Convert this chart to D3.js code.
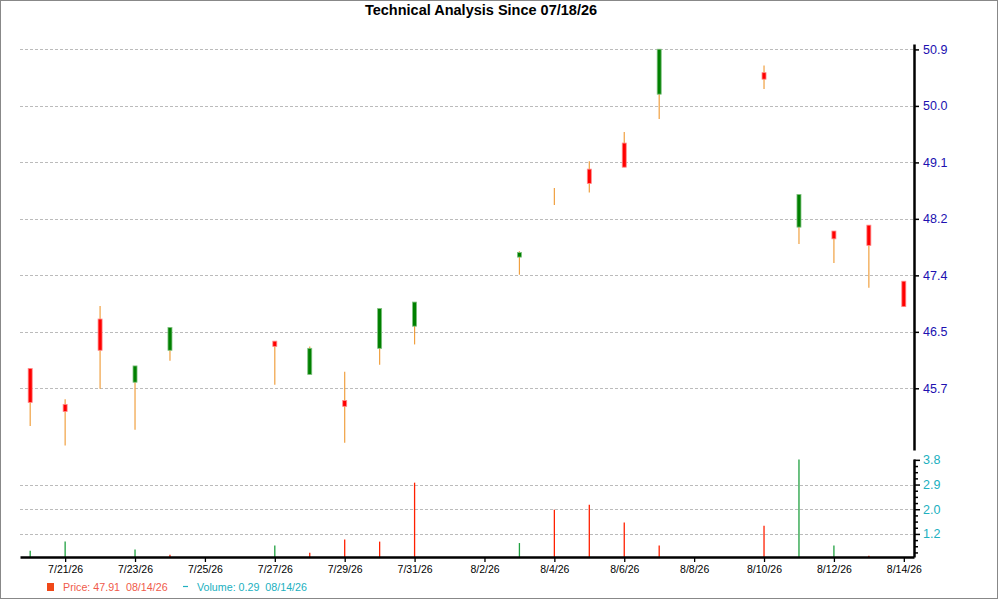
<!DOCTYPE html>
<html>
<head>
<meta charset="utf-8">
<script src="https://cdn.jsdelivr.net/npm/d3@7"></script>
<style>
    body { margin: 0; background: #fff; }
    text { font-family: "Liberation Sans", Arial, sans-serif; }
</style>
</head>
<body>
<div id="chart"></div>
<script>
// Daily candles
const dates = ["2026-07-20", "2026-07-21", "2026-07-22", "2026-07-23", "2026-07-24",
               "2026-07-27", "2026-07-28", "2026-07-29", "2026-07-30", "2026-07-31",
               "2026-08-03", "2026-08-04", "2026-08-05", "2026-08-06", "2026-08-07",
               "2026-08-10", "2026-08-11", "2026-08-12", "2026-08-13", "2026-08-14"];
const opens  = [45.97, 45.42, 46.73, 45.76, 46.25, 46.39, 45.88, 45.48, 46.28, 46.62,
                47.68, 48.62, 49.03, 49.43, 50.18, 50.51, 48.14, 48.08, 48.17, 47.31];
const highs  = [45.97, 45.50, 46.93, 46.01, 46.60, 46.39, 46.31, 45.92, 46.89, 46.99,
                47.77, 48.74, 49.15, 49.60, 50.87, 50.62, 48.64, 48.08, 48.17, 47.31];
const lows   = [45.09, 44.79, 45.66, 45.03, 46.09, 45.72, 45.88, 44.83, 46.03, 46.34,
                47.41, 48.48, 48.67, 49.06, 49.80, 50.26, 47.88, 47.59, 47.21, 46.92];
const closes = [45.45, 45.31, 46.25, 46.01, 46.60, 46.31, 46.28, 45.39, 46.89, 46.99,
                47.75, 48.62, 48.81, 49.06, 50.87, 50.41, 48.64, 47.96, 47.86, 46.92];

// Volume (millions) and whether the bar is drawn as "up"
const volumes = [0.58, 0.90, 0.36, 0.62, 0.44, 0.76, 0.51, 0.97, 0.90, 2.97,
                 0.85, 2.02, 2.19, 1.57, 0.76, 1.46, 3.78, 0.76, 0.40, 0.29];
const volumeUp = [1, 1, 0, 1, 0, 1, 0, 0, 0, 0, 1, 0, 0, 0, 0, 0, 1, 1, 0, 0];

// Axis ticks
const dateTicks = ["2026-07-21", "2026-07-23", "2026-07-25", "2026-07-27", "2026-07-29",
                   "2026-07-31", "2026-08-02", "2026-08-04", "2026-08-06", "2026-08-08",
                   "2026-08-10", "2026-08-12", "2026-08-14"];
const priceTickValues = [45.667, 46.533, 47.4, 48.267, 49.133, 50.0, 50.867];
const priceTickLabels = ["45.7", "46.5", "47.4", "48.2", "49.1", "50.0", "50.9"];
const volumeTickValues = [1.17, 2.037, 2.903, 3.77];
const volumeTickLabels = ["1.2", "2.0", "2.9", "3.8"];

const title = "Technical Analysis Since 07/18/26";
const legendPrice = "Price: 47.91  08/14/26";
const legendVolume = "Volume: 0.29  08/14/26";

const parseDate = d3.timeParse("%Y-%m-%d");
const data = dates.map((d, i) => ({
    date: parseDate(d),
    open: opens[i], high: highs[i], low: lows[i], close: closes[i],
    volume: volumes[i], up: volumeUp[i] === 1
}));

const width = 1000, height = 600;
const plotLeft = 20, plotRight = 914;

const svg = d3.select("#chart")
    .append("svg")
    .attr("width", width)
    .attr("height", height);

// Outer frame
svg.append("rect")
    .attr("x", 0.5).attr("y", 0.5)
    .attr("width", 997).attr("height", 598)
    .attr("fill", "none")
    .attr("stroke", "#888");

// Scales
const x = d3.scaleTime()
    .domain([new Date(2026, 6, 19, 17), new Date(2026, 7, 14, 7)])
    .range([plotLeft, plotRight]);

const yPrice = d3.scaleLinear()
    .domain([44.72, 50.95])
    .range([450, 44]);

const yVol = d3.scaleLinear()
    .domain([0.36, 3.8])
    .range([557, 459]);

// Grid lines
const grid = svg.append("g").attr("stroke", "#bbb").attr("stroke-dasharray", "3,2");
priceTickValues.forEach(v => {
    grid.append("line")
        .attr("x1", plotLeft).attr("x2", plotRight)
        .attr("y1", Math.round(yPrice(v)) + 0.5).attr("y2", Math.round(yPrice(v)) + 0.5);
});
volumeTickValues.slice(0, 3).forEach(v => {
    grid.append("line")
        .attr("x1", plotLeft).attr("x2", plotRight)
        .attr("y1", Math.round(yVol(v)) + 0.5).attr("y2", Math.round(yVol(v)) + 0.5);
});

// Title
svg.append("text")
    .attr("x", 481)
    .attr("y", 15)
    .attr("text-anchor", "middle")
    .attr("font-size", "14.5px")
    .attr("font-weight", "bold")
    .text(title);

// Candles: wicks first, then bodies
svg.append("g").selectAll("line")
    .data(data)
    .enter()
    .append("line")
    .attr("x1", d => x(d.date))
    .attr("x2", d => x(d.date))
    .attr("y1", d => yPrice(d.high))
    .attr("y2", d => yPrice(d.low))
    .attr("stroke", "#f0a040")
    .attr("stroke-width", 1.2);

svg.append("g").selectAll("rect")
    .data(data)
    .enter()
    .append("rect")
    .attr("x", d => x(d.date) - 2)
    .attr("y", d => yPrice(Math.max(d.open, d.close)))
    .attr("width", 4)
    .attr("height", d => Math.abs(yPrice(d.open) - yPrice(d.close)))
    .attr("fill", d => d.close >= d.open ? "#008000" : "#ff0000")
    .attr("stroke", d => d.close >= d.open ? "#7fc07f" : "#ff8a8a")
    .attr("stroke-width", 0.8);

// Volume bars (clamped at the panel baseline)
svg.append("g").selectAll("line")
    .data(data)
    .enter()
    .append("line")
    .attr("x1", d => x(d.date))
    .attr("x2", d => x(d.date))
    .attr("y1", d => yVol(Math.max(d.volume, yVol.domain()[0])))
    .attr("y2", yVol.range()[0])
    .attr("stroke", d => d.up ? "#20a040" : "#ff2000")
    .attr("stroke-width", 1.3);

// Price axis on the right
const priceAxis = svg.append("g")
    .attr("transform", `translate(${plotRight},0)`)
    .call(d3.axisRight(yPrice)
        .tickValues(priceTickValues)
        .tickFormat((d, i) => priceTickLabels[i])
        .tickSize(5)
        .tickSizeOuter(0)
        .tickPadding(4));
priceAxis.select(".domain").attr("stroke-width", 2.5);
priceAxis.selectAll(".tick line").attr("stroke-width", 1.5);
priceAxis.selectAll(".tick text")
    .attr("fill", "#2010b0")
    .attr("font-size", "12.5px")
    .attr("font-family", "'Liberation Sans', Arial, sans-serif");

// Volume axis with minor ticks between the labelled ones
const volStep = (volumeTickValues[3] - volumeTickValues[0]) / 12;
const volAllTicks = d3.range(volumeTickValues[3], yVol.domain()[0], -volStep);
const volAxis = svg.append("g")
    .attr("transform", `translate(${plotRight},0)`)
    .call(d3.axisRight(yVol)
        .tickValues(volAllTicks)
        .tickFormat((d, i) => i % 4 === 0 ? volumeTickLabels[3 - i / 4] : "")
        .tickSize(5)
        .tickSizeOuter(0)
        .tickPadding(4));
volAxis.select(".domain").attr("stroke-width", 2.5);
volAxis.selectAll(".tick line")
    .attr("x2", (d, i) => i % 4 === 0 ? 6 : 4)
    .attr("stroke-width", 1.5);
volAxis.selectAll(".tick text")
    .attr("fill", "#20b0c0")
    .attr("font-size", "12.5px")
    .attr("font-family", "'Liberation Sans', Arial, sans-serif");

// Date axis
const xAxis = svg.append("g")
    .attr("transform", `translate(0,${yVol.range()[0]})`)
    .call(d3.axisBottom(x)
        .tickValues(dateTicks.map(parseDate))
        .tickFormat(d3.timeFormat("%-m/%-d/%y"))
        .tickSize(5)
        .tickSizeOuter(0)
        .tickPadding(4));
xAxis.select(".domain").attr("stroke-width", 2.5);
xAxis.selectAll(".tick line").attr("stroke-width", 1.3);
xAxis.selectAll(".tick text")
    .attr("fill", "#000")
    .attr("font-size", "10.5px")
    .attr("font-family", "'Liberation Sans', Arial, sans-serif");

// Legend
const legend = svg.append("g");
legend.append("rect")
    .attr("x", 47).attr("y", 583)
    .attr("width", 7).attr("height", 8)
    .attr("fill", "#f04818");
legend.append("text")
    .attr("x", 63).attr("y", 591)
    .attr("font-size", "10.7px")
    .attr("fill", "#f05a4a")
    .style("white-space", "pre")
    .text(legendPrice);
legend.append("line")
    .attr("x1", 183).attr("x2", 188)
    .attr("y1", 586.5).attr("y2", 586.5)
    .attr("stroke", "#20b0c0")
    .attr("stroke-width", 1.2);
legend.append("text")
    .attr("x", 197).attr("y", 591)
    .attr("font-size", "10.7px")
    .attr("fill", "#20b0c0")
    .style("white-space", "pre")
    .text(legendVolume);
</script>
</body>
</html>
